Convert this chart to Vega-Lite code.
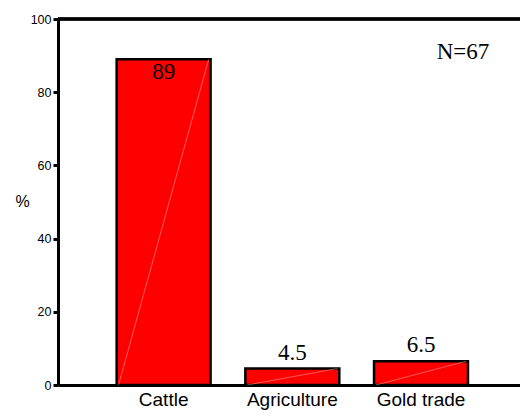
{
  "$schema": "https://vega.github.io/schema/vega-lite/v6.json",
  "width": 462,
  "height": 366,
  "autosize": {"type": "none"},
  "padding": {"left": 58, "top": 19, "right": 0, "bottom": 31},
  "background": "white",
  "config": {"view": {"stroke": null}},
  "data": {"values": [
    {"sector": "Cattle", "pct": 89, "label": "89"},
    {"sector": "Agriculture", "pct": 4.5, "label": "4.5"},
    {"sector": "Gold trade", "pct": 6.5, "label": "6.5"}
  ]},
  "encoding": {
    "x": {"field": "sector", "type": "nominal", "sort": null,
      "scale": {"paddingInner": 0.27, "paddingOuter": 0.43, "align": 0.53},
      "axis": {"title": null, "labelAngle": 0, "labelFont": "Liberation Sans", "labelFontSize": 19, "labelColor": "black",
        "domainColor": "black", "domainWidth": 3, "ticks": false, "labelPadding": 5}},
    "y": {"field": "pct", "type": "quantitative",
      "scale": {"domain": [0, 100], "nice": false},
      "axis": {"values": [0, 20, 40, 60, 80, 100], "grid": false, "title": "%", "titleAngle": 0,
        "titleFont": "Liberation Sans", "titleFontSize": 16, "titleFontWeight": "normal", "titleColor": "black",
        "titleX": -36, "titleY": 190,
        "labelFont": "Liberation Sans", "labelFontSize": 12.5, "labelColor": "black",
        "domainColor": "black", "domainWidth": 3, "tickColor": "black", "tickWidth": 3, "tickSize": 5, "labelPadding": 2}}
  },
  "layer": [
    {"mark": {"type": "bar", "color": "#ff0000", "stroke": "black", "strokeWidth": 2.5}},
    {"mark": {"type": "rule", "color": "white", "strokeWidth": 0.8, "opacity": 0.45},
      "encoding": {"x": {"field": "sector", "type": "nominal", "sort": null, "bandPosition": 0.02},
        "x2": {"field": "sector", "bandPosition": 0.98},
        "y": {"datum": 0}, "y2": {"field": "pct"}}},
    {"mark": {"type": "rule", "color": "black", "strokeWidth": 3}, "encoding": {"y": {"datum": 100}, "x": null}},
    {"transform": [{"filter": "datum.pct > 50"}],
      "mark": {"type": "text", "font": "Liberation Serif, Times New Roman, serif", "fontSize": 23, "baseline": "alphabetic", "dy": 20, "color": "black"},
      "encoding": {"text": {"field": "label"}}},
    {"transform": [{"filter": "datum.pct <= 50"}],
      "mark": {"type": "text", "font": "Liberation Serif, Times New Roman, serif", "fontSize": 23, "baseline": "alphabetic", "dy": -9, "color": "black"},
      "encoding": {"text": {"field": "label"}}},
    {"transform": [{"filter": "datum.sector == 'Gold trade'"}],
      "mark": {"type": "text", "font": "Liberation Serif, Times New Roman, serif", "fontSize": 23, "baseline": "middle", "dx": 42, "color": "black"},
      "encoding": {"y": {"datum": 91}, "text": {"value": "N=67"}}}
  ]
}
